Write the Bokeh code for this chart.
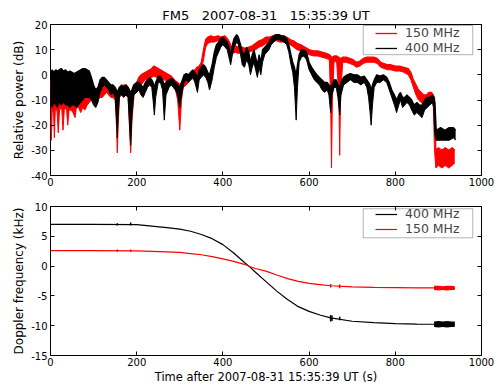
from bokeh.plotting import figure
from bokeh.layouts import column
from bokeh.models import (Range1d, FixedTicker, LinearAxis, Legend, LegendItem,
                          BoxAnnotation)
from bokeh.embed import file_html
from bokeh.resources import INLINE

FONT = "DejaVu Sans"

# ---------------- data: relative power (dB), noisy envelopes -----------------
p400_t = [0, 4, 8, 12, 16, 20, 25, 30, 35, 40, 45, 50, 55, 60, 65, 70, 75, 80, 85, 90,
          95, 100, 105, 110, 115, 120, 125, 130, 135, 140, 145, 150, 153, 155, 157, 160,
          165, 170, 175, 180, 183, 186, 189, 193, 200, 205, 210, 215, 220, 225, 230, 235,
          238, 241, 244, 250, 255, 260, 264, 268, 275, 280, 285, 290, 295, 300, 304, 310,
          315, 320, 325, 330, 335, 341, 345, 350, 355, 360, 365, 369, 375, 380, 385, 390,
          395, 400, 405, 410, 414, 418, 422, 426, 432, 436, 441, 445, 450, 455, 460, 464,
          468, 472, 476, 480, 484, 488, 492, 497, 502, 507, 512, 518, 524, 530, 536, 542,
          548, 553, 558, 562, 566, 570, 573, 577, 582, 588, 594, 600, 606, 612, 618, 624,
          630, 636, 642, 646, 650, 653, 658, 663, 667, 671, 674, 680, 688, 696, 704, 712,
          720, 728, 734, 738, 741, 744, 747, 751, 757, 765, 772, 780, 786, 792, 798, 803,
          808, 812, 817, 822, 827, 833, 838, 844, 850, 856, 862, 868, 874, 880, 886, 889,
          892, 895, 905, 915, 925, 935, 940]
p400_lo = [-11, -13, -11, -12, -13, -11, -12, -11, -12, -12, -13, -12, -12, -13, -12, -11, -10, -9, -9, -9,
           -10, -12, -13, -11, -7, -5, -4, -5, -6, -8, -7, -9, -17, -25, -16, -8,
           -8, -9, -8, -9, -18, -28, -16, -8, -7, -6, -8, -9, -7, -5, -4, -5,
           -10, -16, -9, -3, -3, -6, -18, -8, -5, -4, -5, -6, -8, -13, -8, -3,
           -2, -3, -2, -1, -3, -7, -2, -1, 0, -1, -3, -6, -2, 3, 7, 9,
           11, 12, 11, 10, 7, 4, 8, 11, 13, 12, 8, 4, 3, 6, 4, 0,
           3, 5, 2, -1, 3, 0, 5, 8, 9, 10, 12, 13, 14, 14, 13.5, 13,
           12, 9, 4, 1, -5, -18, -5, 5, 7, 7.5, 6, 2, 0, -2, -3, -4,
           -6, -7, -6, -8, -15, -8, -5, -5, -9, -16, -8, -4, -3, -2, -3, -3,
           -4, -3, -5, -9, -14, -20, -12, -5, -3, -3, -2, -3, -6, -9, -12, -15,
           -12, -10, -13, -12, -11, -12, -14, -16, -15, -16, -17, -14, -13, -12, -11, -13,
           -24, -26, -26, -26, -26, -25, -26]
p400_hi = [1, 2, 1, 2, 1.5, 2, 2.5, 1.5, 2, 1, 1.5, 1, 0.5, 1, 1.5, 2, 2.5, 2.5, 2, 1.5,
           -1, -4, -6, -5, -2, -1, -1, -2, -3, -4, -4, -5, -6, -7, -6, -5,
           -4, -5, -4, -5, -6, -7, -6, -4, -3, -3, -4, -5, -3, -2, -1, -2,
           -3, -5, -3, -0.5, -0.5, -2, -4, -3, -2, -1.5, -2, -3, -4, -5, -3, 0,
           0.5, 0, 1, 2, 1, -1, 2, 3, 4, 3, 1, 0, 4, 9, 12, 13,
           14.5, 15, 14, 13, 11, 8, 12, 14.5, 16, 15, 12, 9, 8, 11, 9, 5,
           8, 10, 7, 4, 8, 5, 10, 11, 12, 13, 14.5, 15.5, 16, 16, 15.5, 15.5,
           14.5, 12, 8, 5, 3, 0, 4, 8, 10, 10, 9, 5, 3, 1.5, 0, -1,
           -2, -3, -3, -4, -5, -4, -2, -2, -4, -5, -3, -1, 0, 0.5, 0, 0,
           -1, -0.5, -2, -3, -4, -6, -4, -2, 0, -0.5, 0, -1, -3, -6, -8, -10,
           -8, -7, -9, -9, -8, -9, -10, -12, -11, -12, -12, -10, -9, -9, -8, -9,
           -11, -22, -21, -22, -21, -21, -22]

p150_t = [0, 2, 4, 7, 9, 11, 15, 18, 21, 26, 29, 32, 37, 40, 43, 48, 52, 57, 60, 65,
          70, 75, 80, 85, 90, 95, 100, 105, 110, 115, 120, 125, 130, 135, 140, 145, 150,
          153, 155, 157, 160, 165, 170, 175, 180, 183, 186, 189, 194, 200, 205, 210, 215,
          220, 225, 230, 235, 240, 245, 250, 255, 260, 265, 270, 275, 280, 285, 290, 295,
          300, 304, 308, 315, 320, 325, 330, 335, 340, 345, 350, 355, 360, 365, 372, 380,
          388, 396, 404, 410, 415, 420, 428, 436, 444, 452, 460, 468, 476, 484, 492, 500,
          508, 516, 524, 532, 540, 548, 556, 564, 572, 580, 590, 600, 610, 620, 630, 640,
          647, 650, 652, 654, 658, 664, 669, 671, 673, 678, 686, 694, 702, 710, 718, 726,
          734, 742, 750, 758, 766, 774, 782, 790, 800, 810, 820, 830, 836, 842, 848, 854,
          860, 866, 872, 878, 884, 888, 891, 894, 900, 908, 916, 924, 932, 938]
p150_lo = [-18, -26, -14, -15, -25, -14, -14, -23, -14, -13, -22, -14, -13, -20, -14, -14, -15, -17, -13, -13,
           -15, -13, -14, -12, -11, -10, -10, -11, -10, -9, -9, -8, -7, -8, -9, -9, -10,
           -20, -31, -20, -9, -8, -8, -8, -9, -20, -31, -18, -8, -6, -5, -4, -3,
           -2, -2, -1.5, -1, -0.5, -1, -1, -1.5, -2, -2, -3, -3, -4, -5, -6, -10,
           -22, -10, -5, -4, -3, -2, -1.5, -1, 0, 1, 2, 6, 11, 12.5, 13, 13,
           13.5, 13, 13.5, 12.5, 10, 8, 9, 8.5, 9, 8.5, 9, 9.5, 10, 11, 11.5, 12.5,
           13, 13.5, 13.5, 13, 13, 12.5, 12, 11, 10, 9.5, 9, 8, 7.5, 7.5, 7, 6.5,
           6, -10, -37, -10, 5.5, 5, -8, -32, -8, 5, 5, 4.5, 4, 3, 3.5, 4.5,
           5, 5, 5, 4.5, 3, 2.5, 2, 2, 1.5, 1.5, 1, 0, -2, -5, -8, -10,
           -11, -12, -11, -11, -10, -11, -30, -37, -36, -37, -36, -37, -36, -35]
p150_hi = [-2, -3, -2, -2, -3, -2, -2, -3, -2, -2, -3, -2, -3, -3, -3, -4, -4, -5, -5, -5,
           -6, -5, -6, -5, -5, -5, -5, -6, -5, -5, -5, -4, -3, -4, -5, -5, -6,
           -7, -8, -7, -5, -5, -4, -4, -5, -6, -7, -6, -4, -3, -1, 0, 0.5,
           1, 1.5, 2, 2.5, 3.5, 3, 2.5, 2, 1.5, 1, 0.5, 0, -0.5, -1.5, -2.5, -3,
           -4, -3, -2, -1, 0, 1, 1.5, 2, 3, 3.5, 5, 10, 14, 15, 15.5, 15,
           15.5, 15, 15.5, 14.5, 13, 11, 11.5, 11, 11, 10.5, 11, 11.5, 12.5, 13.5, 14, 15,
           15, 15.5, 16, 15.5, 15, 15, 14, 13.5, 12.5, 12, 11, 10, 9.5, 9.5, 9, 8.5,
           8, 7.5, 7, 7, 7.5, 7.5, 7, 6.5, 6.5, 7, 7, 6.5, 6, 5, 5.5, 6.5,
           7, 7, 7, 6.5, 5, 4.5, 4, 4, 3.5, 3.5, 3, 2.5, 1, -2, -4, -6,
           -7, -8, -8, -7, -7, -8, -9, -30, -29, -30, -29, -30, -29, -30]

# ---------------- data: Doppler frequency (kHz) -----------------
dop_t = [0, 100, 200, 270, 300, 325, 350, 375, 400, 425, 450, 464, 475, 500, 525, 550,
         575, 600, 625, 650, 700, 750, 800, 850, 900, 938]
dop400 = [7.0, 7.0, 6.95, 6.45, 6.2, 5.85, 5.3, 4.6, 3.6, 2.2, 0.6, -0.25, -1.0, -2.6, -4.2, -5.6,
          -6.8, -7.6, -8.2, -8.7, -9.25, -9.5, -9.65, -9.72, -9.76, -9.78]
dop150 = [2.6, 2.6, 2.55, 2.4, 2.3, 2.1, 1.9, 1.6, 1.2, 0.8, 0.3, -0.1, -0.4, -0.85, -1.5, -2.1,
          -2.55, -2.9, -3.1, -3.3, -3.5, -3.58, -3.62, -3.65, -3.67, -3.68]

gl400_t = [155, 186, 650, 653, 671]
gl400_lo = [6.8, 6.8, -9.3, -9.2, -9.1]
gl400_hi = [7.2, 7.3, -8.2, -8.3, -8.5]
gl150_t = [155, 186, 650, 671]
gl150_lo = [2.4, 2.4, -3.6, -3.7]
gl150_hi = [2.8, 2.8, -3.0, -3.1]

end_t = [890, 900, 910, 920, 930, 938]
end400_lo = [-10.2, -10.3, -10.2, -10.3, -10.2, -10.2]
end400_hi = [-9.3, -9.2, -9.3, -9.2, -9.3, -9.3]
end150_lo = [-4.0, -4.1, -4.0, -4.1, -4.0, -4.0]
end150_hi = [-3.3, -3.3, -3.4, -3.3, -3.3, -3.4]

x_ticks = [0, 200, 400, 600, 800, 1000]
y1_ticks = [-40, -30, -20, -10, 0, 10, 20]
y2_ticks = [-15, -10, -5, 0, 5, 10]

GAP = "\u00a0\u00a0\u00a0"
title_text = "FM5" + GAP + "2007-08-31" + GAP + "15:35:39 UT"
xlabel = "Time after 2007-08-31 15:35:39 UT (s)"

RED = "#ff0000"
BLK = "#000000"


def style(p, yticks, ylabel, show_xlabel):
    p.outline_line_color = "black"
    p.outline_line_width = 1
    p.outline_line_alpha = 1
    p.xgrid.visible = False
    p.ygrid.visible = False
    p.background_fill_color = "white"
    p.border_fill_color = "white"
    for ax, ticks in ((p.xaxis[0], x_ticks), (p.yaxis[0], yticks)):
        ax.ticker = FixedTicker(ticks=ticks)
        ax.major_label_overrides = {t: str(t) for t in ticks}
        ax.minor_tick_line_color = None
        ax.major_tick_in = 4
        ax.major_tick_out = 0
        ax.axis_line_color = None
        ax.major_tick_line_color = "black"
        ax.major_label_text_font = FONT
        ax.major_label_text_font_size = "10px"
        ax.major_label_text_color = "black"
        ax.major_label_standoff = 3
        ax.axis_label_text_font = FONT
        ax.axis_label_text_font_style = "normal"
        ax.axis_label_text_color = "black"
    p.yaxis[0].axis_label = ylabel
    p.yaxis[0].axis_label_text_font_size = "12px"
    p.yaxis[0].axis_label_standoff = 2
    p.xaxis[0].major_label_standoff = 2
    if show_xlabel:
        p.xaxis[0].axis_label = xlabel
        p.xaxis[0].axis_label_text_font_size = "11.5px"
        p.xaxis[0].axis_label_standoff = 1
    for side, ticks in (("above", x_ticks), ("right", yticks)):
        ax = LinearAxis(ticker=FixedTicker(ticks=ticks))
        ax.minor_tick_line_color = None
        ax.major_tick_in = 4
        ax.major_tick_out = 0
        ax.axis_line_color = None
        ax.major_tick_line_color = "black"
        ax.major_label_text_font_size = "0px"
        ax.major_label_standoff = 0
        ax.major_label_text_color = None
        p.add_layout(ax, side)


def legend(p, items, y):
    lg = Legend(items=items, location=(325, y), padding=0, spacing=0, margin=0,
                glyph_width=22, glyph_height=12, label_standoff=8, label_height=12,
                label_text_font=FONT, label_text_font_size="12.5px",
                border_line_color=None, background_fill_alpha=0)
    p.add_layout(lg, "center")


# ---------------- top panel -----------------
p1 = figure(width=498, height=192, output_backend="svg", toolbar_location=None,
            x_range=Range1d(0, 1000), y_range=Range1d(-40, 20),
            min_border_left=50, min_border_right=17, min_border_top=24, min_border_bottom=17)
style(p1, y1_ticks, "Relative power (dB)", False)
p1.title.text = title_text
p1.title.align = "center"
p1.title.text_font = FONT
p1.title.text_font_size = "13px"
p1.title.text_font_style = "normal"
p1.title.text_color = "black"
p1.title.standoff = 3

p1.varea(x=p150_t, y1=p150_lo, y2=p150_hi, fill_color=RED)
r150a = p1.line(p150_t, p150_hi, line_color=RED, line_width=1.3)
p1.line(p150_t, p150_lo, line_color=RED, line_width=1)
p1.varea(x=p400_t, y1=p400_lo, y2=p400_hi, fill_color=BLK)
r400a = p1.line(p400_t, p400_hi, line_color=BLK, line_width=1.3)
p1.line(p400_t, p400_lo, line_color=BLK, line_width=1)

legend(p1, [LegendItem(label="150 MHz", renderers=[r150a]),
            LegendItem(label="400 MHz", renderers=[r400a])], 120)
p1.add_layout(BoxAnnotation(left=725.5, right=979.8, bottom=8.0, top=19.6,
                            fill_color=None, line_color="black", line_width=1))

# ---------------- bottom panel -----------------
p2 = figure(width=498, height=194, output_backend="svg", toolbar_location=None,
            x_range=Range1d(0, 1000), y_range=Range1d(-15, 10),
            min_border_left=50, min_border_right=17, min_border_top=14, min_border_bottom=28)
style(p2, y2_ticks, "Doppler frequency (kHz)", True)

r400b = p2.line(dop_t, dop400, line_color=BLK, line_width=1.2)
r150b = p2.line(dop_t, dop150, line_color=RED, line_width=1.2)
p2.segment(x0=gl400_t, y0=gl400_lo, x1=gl400_t, y1=gl400_hi, line_color=BLK, line_width=1.5)
p2.segment(x0=gl150_t, y0=gl150_lo, x1=gl150_t, y1=gl150_hi, line_color=RED, line_width=1.5)
p2.varea(x=end_t, y1=end150_lo, y2=end150_hi, fill_color=RED)
p2.varea(x=end_t, y1=end400_lo, y2=end400_hi, fill_color=BLK)

legend(p2, [LegendItem(label="400 MHz", renderers=[r400b]),
            LegendItem(label="150 MHz", renderers=[r150b])], 119)
p2.add_layout(BoxAnnotation(left=725.5, right=979.8, bottom=4.75, top=9.62,
                            fill_color=None, line_color="black", line_width=1))

layout = column(p1, p2, spacing=0)
open("out.html", "w").write(file_html(layout, INLINE))
